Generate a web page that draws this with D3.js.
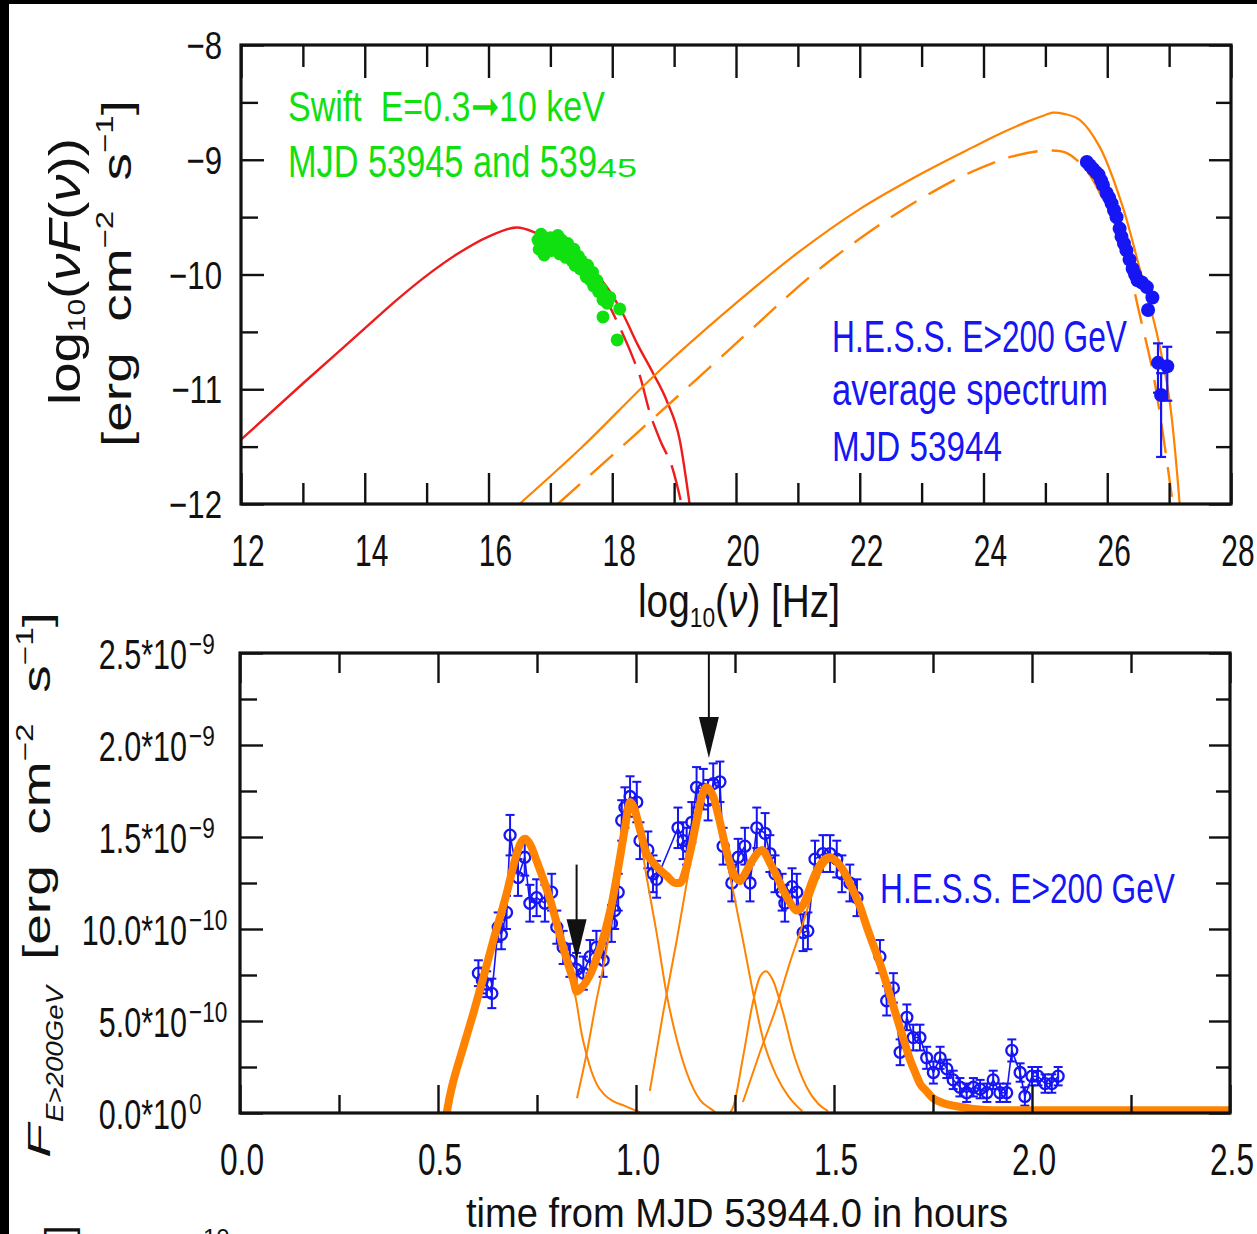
<!DOCTYPE html>
<html>
<head>
<meta charset="utf-8">
<script src="https://cdn.jsdelivr.net/npm/d3@7"></script>
<style>
  html, body { margin: 0; padding: 0; background: #fff; }
  svg { display: block; }
  text { font-family: "Liberation Sans", Arial, sans-serif; white-space: pre; }
</style>
</head>
<body>
<svg id="chart" width="1257" height="1234"></svg>
<script>
// ---------------- SED panel (log10 nu vs log10 nuFnu) ----------------
const sedXTicks = [12, 14, 16, 18, 20, 22, 24, 26, 28];
const sedYTicks = [-8, -9, -10, -11, -12];

// synchrotron model (solid and dashed)
const syncSolid = [[12.0,-11.44],[13.0,-10.95],[14.0,-10.47],[14.5,-10.23],[15.0,-10.01],[15.5,-9.82],
  [16.0,-9.67],[16.46,-9.59],[16.78,-9.64],[17.2,-9.76],[17.6,-9.93],[17.9,-10.10],[18.17,-10.34],
  [18.4,-10.60],[18.66,-10.86],[18.88,-11.10],[19.09,-11.44],[19.25,-12.0]];
const syncDashed = [[17.3,-9.80],[17.6,-9.95],[17.96,-10.28],[18.12,-10.46],[18.33,-10.72],[18.45,-10.89],
  [18.61,-11.21],[18.77,-11.44],[18.98,-11.70],[19.12,-12.0]];

// inverse-Compton model (solid and dashed)
const icSolid = [[16.5,-12.0],[17.5,-11.51],[18.72,-10.86],[20.0,-10.25],[21.0,-9.81],[22.0,-9.43],
  [23.0,-9.12],[23.83,-8.89],[24.3,-8.765],[24.7,-8.67],[25.0,-8.61],[25.12,-8.59],
  [25.3,-8.60],[25.55,-8.65],[25.88,-8.89],[26.25,-9.41],[26.52,-9.94],[26.8,-10.51],[27.0,-11.07],
  [27.17,-12.0]];
const icDashed = [[17.12,-12.0],[18.3,-11.43],[19.9,-10.65],[21.0,-10.11],[21.4,-9.93],[21.84,-9.75],
  [22.48,-9.51],[23.18,-9.28],[23.83,-9.10],[24.47,-8.97],[25.02,-8.92],[25.34,-8.94],[25.66,-9.09],
  [25.99,-9.41],[26.25,-9.73],[26.52,-10.34],[26.74,-10.86],[26.93,-11.5],[27.06,-12.0]];

// Swift X-ray points
const swiftNu = [16.80,16.82,16.85,16.88,16.90,16.95,17.00,17.02,17.05,17.10,17.12,17.15,17.18,17.20,
  17.25,17.28,17.30,17.35,17.38,17.40,17.45,17.48,17.50,17.55,17.58,17.60,17.65,17.68,17.70,17.75,
  17.78,17.82,17.85,17.88,17.92,17.96,17.85,18.12,18.08];
const swiftF = [-9.70,-9.78,-9.65,-9.74,-9.83,-9.70,-9.68,-9.79,-9.72,-9.75,-9.66,-9.82,-9.70,-9.77,
  -9.85,-9.73,-9.80,-9.88,-9.78,-9.92,-9.84,-9.95,-9.88,-9.97,-10.02,-9.92,-10.05,-9.98,-10.10,-10.05,
  -10.15,-10.12,-10.22,-10.18,-10.25,-10.20,-10.37,-10.30,-10.57];

// H.E.S.S. average spectrum points
const hessNu  = [25.67,25.72,25.77,25.82,25.86,25.90,25.93,25.99,26.03,26.07,26.11,26.15,26.20,26.23,
  26.27,26.31,26.36,26.41,26.45,26.49,26.56,26.64,26.73,26.66,26.82,26.97,26.87];
const hessF   = [-9.02,-9.05,-9.08,-9.11,-9.13,-9.18,-9.22,-9.29,-9.33,-9.38,-9.44,-9.50,-9.60,-9.67,
  -9.73,-9.79,-9.87,-9.95,-10.00,-10.05,-10.07,-10.11,-10.20,-10.31,-10.77,-10.80,-11.05];
const hessLo  = [0.02,0.02,0.02,0.02,0.02,0.02,0.02,0.02,0.02,0.02,0.02,0.02,0.02,0.02,
  0.02,0.02,0.02,0.03,0.03,0.03,0.03,0.03,0.04,0.04,0.26,0.30,0.54];
const hessHi  = [0.02,0.02,0.02,0.02,0.02,0.02,0.02,0.02,0.02,0.02,0.02,0.02,0.02,0.02,
  0.02,0.02,0.02,0.03,0.03,0.03,0.03,0.03,0.04,0.04,0.17,0.17,0.19];

// ---------------- light curve panel (flux in units of 1e-9 erg cm^-2 s^-1) ----------------
const lcXTicks = [0, 0.5, 1.0, 1.5, 2.0, 2.5];
const lcXTickLabels = ["0.0", "0.5", "1.0", "1.5", "2.0", "2.5"];
const lcYTicks = [0, 0.5, 1.0, 1.5, 2.0, 2.5];
const lcYMantissa = ["0.0*10", "5.0*10", "10.0*10", "1.5*10", "2.0*10", "2.5*10"];
const lcYExponent = ["0", "\u221210", "\u221210", "\u22129", "\u22129", "\u22129"];

const lcTime = [0.602,0.612,0.623,0.636,0.652,0.660,0.673,0.682,0.702,0.719,0.732,0.749,0.770,0.787,
  0.800,0.816,0.833,0.850,0.867,0.884,0.900,0.917,0.938,0.946,0.955,0.964,0.972,0.985,1.002,1.010,
  1.030,1.043,1.052,1.106,1.119,1.128,1.141,1.153,1.170,1.182,1.195,1.212,1.220,1.242,1.258,1.275,
  1.288,1.305,1.326,1.338,1.351,1.369,1.376,1.394,1.406,1.422,1.434,1.452,1.472,1.490,1.507,1.520,
  1.540,1.558,1.616,1.633,1.650,1.667,1.684,1.700,1.717,1.734,1.751,1.768,1.785,1.801,1.818,1.835,
  1.852,1.869,1.886,1.902,1.919,1.936,1.949,1.970,1.982,2.000,2.015,2.033,2.050,2.066];
const lcFlux = [0.76,0.72,0.70,0.65,1.01,0.97,1.09,1.51,1.28,1.39,1.14,1.17,1.14,1.20,
  1.01,0.90,0.83,0.78,0.76,0.85,0.90,0.83,1.03,1.10,1.20,1.59,1.66,1.72,1.69,1.48,
  1.43,1.30,1.27,1.55,1.48,1.45,1.58,1.77,1.76,1.70,1.79,1.80,1.45,1.25,1.39,1.45,
  1.25,1.55,1.52,1.41,1.30,1.20,1.14,1.23,1.20,0.98,0.99,1.38,1.41,1.41,1.38,1.30,
  1.25,1.17,0.85,0.61,0.68,0.33,0.52,0.41,0.41,0.30,0.22,0.30,0.24,0.18,0.14,0.11,
  0.14,0.13,0.11,0.18,0.11,0.11,0.34,0.22,0.09,0.20,0.20,0.16,0.16,0.20];
const lcErr = [0.07,0.07,0.07,0.08,0.08,0.08,0.09,0.11,0.10,0.10,0.10,0.10,0.10,0.10,
  0.09,0.09,0.09,0.09,0.09,0.09,0.09,0.09,0.10,0.10,0.10,0.11,0.11,0.11,0.11,0.10,
  0.10,0.10,0.10,0.11,0.10,0.10,0.11,0.11,0.11,0.11,0.11,0.11,0.10,0.10,0.10,0.10,
  0.10,0.11,0.11,0.10,0.10,0.10,0.10,0.10,0.10,0.10,0.10,0.10,0.10,0.10,0.10,0.10,
  0.10,0.10,0.09,0.08,0.08,0.07,0.07,0.07,0.07,0.06,0.06,0.06,0.05,0.05,0.05,0.05,
  0.05,0.05,0.05,0.05,0.05,0.05,0.06,0.05,0.05,0.05,0.05,0.05,0.05,0.05];

// summed flare model
const flareTotal = [[0.522,0.0],[0.527,0.06],[0.535,0.14],[0.560,0.33],[0.589,0.54],[0.615,0.74],
  [0.640,0.94],[0.673,1.19],[0.695,1.38],[0.707,1.46],[0.720,1.49],[0.735,1.45],[0.749,1.37],
  [0.766,1.27],[0.783,1.16],[0.800,1.03],[0.816,0.90],[0.830,0.80],[0.842,0.72],[0.850,0.66],
  [0.862,0.68],[0.876,0.72],[0.890,0.78],[0.900,0.84],[0.913,0.92],[0.926,1.02],[0.940,1.15],
  [0.951,1.28],[0.962,1.42],[0.972,1.55],[0.985,1.69],[0.995,1.66],[1.010,1.54],[1.027,1.41],
  [1.040,1.37],[1.052,1.34],[1.077,1.29],[1.100,1.25],[1.111,1.25],[1.128,1.34],[1.140,1.45],
  [1.153,1.59],[1.165,1.71],[1.178,1.77],[1.195,1.72],[1.212,1.58],[1.229,1.42],[1.245,1.31],
  [1.262,1.26],[1.275,1.30],[1.296,1.38],[1.318,1.43],[1.338,1.36],[1.355,1.29],[1.372,1.21],
  [1.390,1.14],[1.406,1.10],[1.422,1.13],[1.435,1.20],[1.447,1.27],[1.460,1.33],[1.472,1.37],
  [1.490,1.39],[1.505,1.37],[1.520,1.33],[1.548,1.21],[1.566,1.12],[1.583,1.01],[1.598,0.92],
  [1.615,0.82],[1.633,0.70],[1.650,0.58],[1.667,0.46],[1.680,0.37],[1.692,0.29],[1.705,0.22],
  [1.717,0.16],[1.733,0.12],[1.750,0.08],[1.775,0.055],[1.801,0.04],[1.83,0.03],[1.86,0.02],
  [1.9,0.015],[2.5,0.015]];

// individual flare components
const flare1 = [[0.522,0.0],[0.535,0.14],[0.589,0.54],[0.640,0.94],[0.673,1.19],[0.707,1.46],
  [0.720,1.49],[0.749,1.37],[0.783,1.16],[0.816,0.88],[0.850,0.60],[0.862,0.44],[0.876,0.31],
  [0.900,0.16],[0.920,0.10],[0.942,0.065],[0.970,0.04],[0.992,0.02],[1.010,0.005]];
const flare2 = [[0.851,0.08],[0.876,0.33],[0.900,0.61],[0.917,0.79],[0.940,1.07],[0.962,1.40],
  [0.985,1.67],[0.995,1.64],[1.010,1.50],[1.027,1.28],[1.052,0.98],[1.077,0.65],[1.103,0.40],
  [1.128,0.22],[1.162,0.07],[1.187,0.025],[1.200,0.005]];
const flare3 = [[1.035,0.12],[1.069,0.55],[1.103,0.94],[1.132,1.30],[1.153,1.55],[1.178,1.74],
  [1.195,1.69],[1.212,1.55],[1.229,1.38],[1.245,1.21],[1.270,0.94],[1.296,0.65],[1.321,0.40],
  [1.355,0.20],[1.385,0.09],[1.405,0.04],[1.420,0.01]];
const flare4 = [[1.237,0.0],[1.245,0.03],[1.270,0.30],[1.296,0.61],[1.313,0.74],[1.328,0.77],
  [1.346,0.72],[1.372,0.54],[1.397,0.33],[1.431,0.14],[1.460,0.05],[1.485,0.01]];
const flare5 = [[1.270,0.06],[1.313,0.33],[1.355,0.58],[1.389,0.82],[1.414,0.98],[1.447,1.20],
  [1.472,1.33],[1.490,1.37],[1.505,1.36],[1.520,1.32],[1.548,1.20],[1.583,1.00],[1.615,0.82],
  [1.650,0.58],[1.680,0.37],[1.705,0.22],[1.733,0.12],[1.775,0.055],[1.83,0.03],[1.9,0.015]];

// arrows marking the flare epochs: time, flux at tail, flux at tip
const arrowTime = [0.850, 1.184];
const arrowTail = [1.35, 2.5];
const arrowTip  = [0.83, 1.93];

// ---------------- drawing ----------------
const W = 1257, H = 1234;
const svg = d3.select("#chart");
const GREEN = "#10e010", RED = "#ee1c1c", ORANGE = "#ff8200", BLUE = "#1515f5", INK = "#111";

svg.append("rect").attr("width", W).attr("height", H).attr("fill", "#fff");
svg.append("rect").attr("x", 0).attr("y", 0).attr("width", 9).attr("height", H).attr("fill", "#000");
svg.append("rect").attr("x", 0).attr("y", 0).attr("width", W).attr("height", 4).attr("fill", "#000");

// text with condensed glyphs: width = natural width * sx (or a given length)
function label(parent, x, y, s, o) {
  const t = parent.append("text").attr("x", 0).attr("y", y).text(s)
    .attr("font-size", o.size).attr("fill", o.fill || INK);
  if (o.italic) t.attr("font-style", "italic");
  const natural = t.node().getComputedTextLength();
  const w = o.len != null ? o.len : natural * (o.sx || 1);
  t.attr("textLength", w).attr("lengthAdjust", "spacingAndGlyphs");
  const a = o.anchor || "start";
  const left = a === "start" ? x : a === "end" ? x - w : x - w / 2;
  t.attr("x", left);
  return { node: t, left: left, right: left + w, width: w };
}

function ticksAxis(g, axisFn, scale, vals, len, tr) {
  g.append("g").attr("transform", tr)
    .call(axisFn(scale).tickValues(vals).tickSize(len).tickSizeOuter(0).tickFormat(""))
    .call(s => s.select(".domain").remove())
    .call(s => s.selectAll("line").attr("stroke", INK).attr("stroke-width", 2.4));
}

function frame(g, x, y, spec) {
  const [x0, x1] = x.range(), [y0, y1] = y.range();
  ticksAxis(g, d3.axisBottom, x, spec.xMajor, -spec.bottom[0], `translate(0,${y0})`);
  ticksAxis(g, d3.axisBottom, x, spec.xMinor, -spec.bottom[1], `translate(0,${y0})`);
  ticksAxis(g, d3.axisTop, x, spec.xMajor, -spec.top[0], `translate(0,${y1})`);
  ticksAxis(g, d3.axisTop, x, spec.xMinor, -spec.top[1], `translate(0,${y1})`);
  ticksAxis(g, d3.axisLeft, y, spec.yMajor, -spec.left[0], `translate(${x0},0)`);
  ticksAxis(g, d3.axisLeft, y, spec.yMinor, -spec.left[1], `translate(${x0},0)`);
  ticksAxis(g, d3.axisRight, y, spec.yMajor, -spec.right[0], `translate(${x1},0)`);
  ticksAxis(g, d3.axisRight, y, spec.yMinor, -spec.right[1], `translate(${x1},0)`);
  g.append("rect").attr("x", x0).attr("y", y1).attr("width", x1 - x0).attr("height", y0 - y1)
    .attr("fill", "none").attr("stroke", INK).attr("stroke-width", 3.2);
}

// ======== SED panel ========
const xS = d3.scaleLinear().domain([12, 28]).range([241, 1231]);
const yS = d3.scaleLinear().domain([-12, -8]).range([504, 45]);
const gS = svg.append("g");
const clipS = svg.append("clipPath").attr("id", "clipS");
clipS.append("rect").attr("x", 241).attr("y", 45).attr("width", 990).attr("height", 459);

const lineS = d3.line().x(d => xS(d[0])).y(d => yS(d[1])).curve(d3.curveMonotoneX);
const smoothS = d3.line().x(d => xS(d[0])).y(d => yS(d[1])).curve(d3.curveCatmullRom.alpha(0.5));
const curves = gS.append("g").attr("clip-path", "url(#clipS)");
curves.append("path").attr("d", lineS(syncSolid)).attr("fill", "none").attr("stroke", RED).attr("stroke-width", 2.4);
curves.append("path").attr("d", lineS(syncDashed)).attr("fill", "none").attr("stroke", RED)
  .attr("stroke-width", 2.4).attr("stroke-dasharray", "36,12");
curves.append("path").attr("d", smoothS(icSolid)).attr("fill", "none").attr("stroke", ORANGE).attr("stroke-width", 2.2);
curves.append("path").attr("d", smoothS(icDashed)).attr("fill", "none").attr("stroke", ORANGE)
  .attr("stroke-width", 2.4).attr("stroke-dasharray", "30,14");

// Swift points
gS.append("g").selectAll("circle").data(swiftNu.map((v, i) => [v, swiftF[i]])).join("circle")
  .attr("cx", d => xS(d[0])).attr("cy", d => yS(d[1])).attr("r", 6.5).attr("fill", GREEN);

// H.E.S.S. spectrum points with error bars
const hessG = gS.append("g").attr("stroke", BLUE).attr("stroke-width", 2.2);
hessNu.forEach((v, i) => {
  const x = xS(v), yl = yS(hessF[i] - hessLo[i]), yh = yS(hessF[i] + hessHi[i]);
  hessG.append("line").attr("x1", x).attr("x2", x).attr("y1", yl).attr("y2", yh);
  if (hessLo[i] > 0.1) {
    hessG.append("line").attr("x1", x - 5).attr("x2", x + 5).attr("y1", yl).attr("y2", yl);
    hessG.append("line").attr("x1", x - 5).attr("x2", x + 5).attr("y1", yh).attr("y2", yh);
  }
});
gS.append("g").selectAll("circle").data(hessNu.map((v, i) => [v, hessF[i]])).join("circle")
  .attr("cx", d => xS(d[0])).attr("cy", d => yS(d[1])).attr("r", 7).attr("fill", BLUE);

frame(gS, xS, yS, {
  xMajor: sedXTicks, xMinor: d3.range(13, 28, 2),
  yMajor: sedYTicks, yMinor: [-8.5, -9.5, -10.5, -11.5],
  bottom: [31, 21], top: [33, 22], left: [23, 17], right: [22, 15]
});

sedXTicks.forEach(v => label(gS, xS(v) + 7, 566, String(v), { size: 44, sx: 0.68, anchor: "middle" }));
sedYTicks.forEach(v => label(gS, 222, yS(v) + 14, "\u2212" + Math.abs(v), { size: 39, sx: 0.8, anchor: "end" }));

// x title: log10(nu) [Hz]
{
  const t = gS.append("text").attr("x", 638).attr("y", 617).attr("fill", INK)
    .attr("textLength", 202).attr("lengthAdjust", "spacingAndGlyphs");
  t.append("tspan").attr("font-size", 46).text("log");
  t.append("tspan").attr("font-size", 27).attr("dy", 10).text("10");
  t.append("tspan").attr("font-size", 46).attr("dy", -10).text("(");
  t.append("tspan").attr("font-size", 46).attr("font-style", "italic").text("\u03bd");
  t.append("tspan").attr("font-size", 46).text(") [Hz]");
}
// y title, two rotated lines
{
  const g1 = gS.append("g").attr("transform", "translate(80,405) rotate(-90)");
  const t = g1.append("text").attr("x", 0).attr("y", 0).attr("fill", INK)
    .attr("textLength", 267).attr("lengthAdjust", "spacingAndGlyphs");
  t.append("tspan").attr("font-size", 44).text("log");
  t.append("tspan").attr("font-size", 24).attr("dy", 5).text("10");
  t.append("tspan").attr("font-size", 44).attr("dy", -5).text("(");
  t.append("tspan").attr("font-size", 44).attr("font-style", "italic").text("\u03bdF");
  t.append("tspan").attr("font-size", 44).text("(");
  t.append("tspan").attr("font-size", 44).attr("font-style", "italic").text("\u03bd");
  t.append("tspan").attr("font-size", 44).text("))");

  const g2 = gS.append("g").attr("transform", "translate(131,447) rotate(-90)");
  const u = g2.append("text").attr("x", 0).attr("y", 0).attr("fill", INK)
    .attr("textLength", 347).attr("lengthAdjust", "spacingAndGlyphs");
  u.append("tspan").attr("font-size", 40).text("[erg  cm");
  u.append("tspan").attr("font-size", 24).attr("dy", -18).text("\u22122");
  u.append("tspan").attr("font-size", 40).attr("dy", 18).text("  s");
  u.append("tspan").attr("font-size", 24).attr("dy", -18).text("\u22121");
  u.append("tspan").attr("font-size", 40).attr("dy", 18).text("]");
}

// annotations
label(gS, 288, 121, "Swift  E=0.3\u279e10 keV", { size: 43, len: 317, fill: GREEN });
label(gS, 288, 177, "MJD 53945 and 539", { size: 44, len: 309, fill: GREEN });
gS.append("text").attr("transform", "translate(597,177) scale(1,0.6)")
  .attr("font-size", 44).attr("fill", GREEN).attr("textLength", 40)
  .attr("lengthAdjust", "spacingAndGlyphs").text("45");
label(gS, 832, 352, "H.E.S.S. E>200 GeV", { size: 44, len: 295, fill: BLUE });
label(gS, 832, 405, "average spectrum", { size: 44, len: 276, fill: BLUE });
label(gS, 832, 461, "MJD 53944", { size: 42, len: 170, fill: BLUE });

// ======== light curve panel ========
const xL = d3.scaleLinear().domain([0, 2.5]).range([240, 1230]);
const yL = d3.scaleLinear().domain([0, 2.5]).range([1113, 653]);
const gL = svg.append("g");
const lineL = d3.line().x(d => xL(d[0])).y(d => yL(d[1])).curve(d3.curveMonotoneX);

// data points with connecting line and error bars
const pts = lcTime.map((t, i) => [t, lcFlux[i], lcErr[i]]);
gL.append("path").attr("d", d3.line().x(d => xL(d[0])).y(d => yL(d[1]))(pts))
  .attr("fill", "none").attr("stroke", BLUE).attr("stroke-width", 1.6);
const eb = gL.append("g").attr("stroke", BLUE).attr("stroke-width", 2);
pts.forEach(d => {
  const x = xL(d[0]), y1 = yL(d[1] - d[2]), y2 = yL(d[1] + d[2]);
  eb.append("line").attr("x1", x).attr("x2", x).attr("y1", y1).attr("y2", y2);
  eb.append("line").attr("x1", x - 4.5).attr("x2", x + 4.5).attr("y1", y1).attr("y2", y1);
  eb.append("line").attr("x1", x - 4.5).attr("x2", x + 4.5).attr("y1", y2).attr("y2", y2);
});
gL.append("g").selectAll("circle").data(pts).join("circle")
  .attr("cx", d => xL(d[0])).attr("cy", d => yL(d[1])).attr("r", 5.5)
  .attr("fill", "none").attr("stroke", BLUE).attr("stroke-width", 2.3);

// flare model
[flare1, flare2, flare3, flare4, flare5].forEach(c => {
  gL.append("path").attr("d", lineL(c)).attr("fill", "none").attr("stroke", ORANGE).attr("stroke-width", 2);
});
gL.append("path").attr("d", lineL(flareTotal)).attr("fill", "none").attr("stroke", ORANGE)
  .attr("stroke-width", 8).attr("stroke-linejoin", "round");

// arrows
arrowTime.forEach((t, i) => {
  const x = xL(t), yTail = yL(arrowTail[i]), yTip = yL(arrowTip[i]);
  gL.append("line").attr("x1", x).attr("x2", x).attr("y1", yTail).attr("y2", yTip - 30)
    .attr("stroke", INK).attr("stroke-width", 2);
  gL.append("path").attr("d", `M${x - 10},${yTip - 41}L${x + 10},${yTip - 41}L${x},${yTip}Z`).attr("fill", INK);
});

frame(gL, xL, yL, {
  xMajor: lcXTicks, xMinor: [0.25, 0.75, 1.25, 1.75, 2.25],
  yMajor: lcYTicks, yMinor: [0.25, 0.75, 1.25, 1.75, 2.25],
  bottom: [28, 18], top: [30, 20], left: [23, 17], right: [21, 14]
});

lcXTicks.forEach((v, i) => label(gL, xL(v) + 2, 1175, lcXTickLabels[i], { size: 44, sx: 0.72, anchor: "middle" }));
lcYTicks.forEach((v, i) => {
  const y = yL(v);
  label(gL, 189, y + 1, lcYExponent[i], { size: 29, sx: 0.78, anchor: "start" });
  label(gL, 187, y + 16, lcYMantissa[i], { size: 43, sx: 0.71, anchor: "end" });
});

label(gL, 466, 1227, "time from MJD 53944.0 in hours", { size: 41, len: 542 });
label(gL, 880, 903, "H.E.S.S. E>200 GeV", { size: 42, len: 295, fill: BLUE });

// y title of the light curve (rotated)
{
  const g = gL.append("g").attr("transform", "translate(50,1158) rotate(-90)");
  g.append("text").attr("x", 0).attr("y", 0).attr("font-size", 32).attr("font-style", "italic")
    .attr("fill", INK).attr("textLength", 34).attr("lengthAdjust", "spacingAndGlyphs").text("F");
  g.append("text").attr("x", 36).attr("y", 13).attr("font-size", 24).attr("font-style", "italic")
    .attr("fill", INK).attr("textLength", 136).attr("lengthAdjust", "spacingAndGlyphs").text("E>200GeV");
  const u = g.append("text").attr("x", 198).attr("y", 0).attr("fill", INK)
    .attr("textLength", 348).attr("lengthAdjust", "spacingAndGlyphs");
  u.append("tspan").attr("font-size", 38).text("[erg  cm");
  u.append("tspan").attr("font-size", 23).attr("dy", -17).text("\u22122");
  u.append("tspan").attr("font-size", 38).attr("dy", 17).text("  s");
  u.append("tspan").attr("font-size", 23).attr("dy", -17).text("\u22121");
  u.append("tspan").attr("font-size", 38).attr("dy", 17).text("]");
}

// edge of the following panel
svg.append("text").attr("transform", "translate(72,1236) rotate(-90)").attr("font-size", 38)
  .attr("fill", INK).text("]");
svg.append("text").attr("x", 203).attr("y", 1246).attr("font-size", 24).attr("fill", INK).text("10");
</script>
</body>
</html>
